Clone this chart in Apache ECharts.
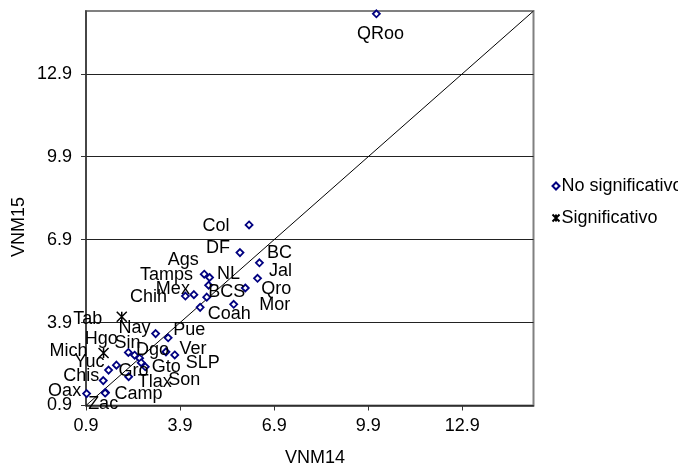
<!DOCTYPE html>
<html>
<head>
<meta charset="utf-8">
<script src="https://cdn.jsdelivr.net/npm/echarts@6/dist/echarts.min.js"></script>
<style>
html,body{margin:0;padding:0;background:#fff;}
#chart{width:678px;height:468px;}
</style>
</head>
<body>
<div id="chart"></div>
<script>
// ---- data ----
const nsNames = ['QRoo','Col','DF','BC','Jal','Ags','NL','Tamps','Qro','Chih','Mex','BCS','Mor','Coah',
  'Nay','Pue','Hgo','Sin','Dgo','Son','Gto','Ver','SLP','Gro','Yuc','Tlax','Chis','Oax','Camp','Zac'];
const nsVNM14 = [10.16,6.10,5.81,6.43,6.37,4.67,4.84,4.81,5.98,4.07,4.34,4.75,5.61,4.54,
  3.12,3.52,2.25,2.45,2.61,2.66,2.79,3.45,3.73,1.87,1.62,2.26,1.45,0.92,1.52,1.51];
const nsVNM15 = [15.07,7.43,6.43,6.06,5.50,5.65,5.53,5.25,5.15,4.86,4.91,4.82,4.56,4.45,
  3.50,3.35,2.82,2.72,2.61,2.45,2.30,2.84,2.73,2.36,2.18,1.94,1.80,1.33,1.37,1.35];

const sigNames = ['Tab','Mich'];
const sigVNM14 = [2.04,1.46];
const sigVNM15 = [4.11,2.80];

const tickValues = [0.9,3.9,6.9,9.9,12.9];
const axisMin = 0.9;
const axisMax = 15.17;

// ---- label placement (style only, pixel offsets of label centre from marker) ----
const nsLabelOffset = [[4,20],[-33,1],[-22,-5],[20,-10],[23,-7],[-21,-14],[19,-3],[-42,-10],[31,1],[-37,1],[-21,-6],[20,-5],[41,1],[29,7],
  [-21,-6],[21,-8],[-27,-13],[-7,-12],[13,-8],[43,17],[21,0],[27,-3],[28,8],[17,6],[-19,-8],[26,5],[-22,-5],[-22,-3],[33,2],[-2,11]];
const sigLabelOffset = [[-34,2],[-35,-2]];

const FONT = 'Liberation Sans, Arial, sans-serif';
const FS = 18;

function buildData(names, xs, ys, offs){
  return names.map((n,i)=>({
    name:n, value:[xs[i], ys[i]],
    label:{offset:offs[i]}
  }));
}

const chart = echarts.init(document.getElementById('chart'), null, {renderer:'canvas'});
const starPath = 'path://M0,0L10,10M10,0L0,10M5,0L5,10';
const labelStyle = {show:true, position:'inside', formatter:'{b}', color:'#000', opacity:1, fontSize:FS, fontFamily:FONT, textBorderWidth:0, textBorderColor:'transparent'};

chart.setOption({
  animation:false,
  backgroundColor:'#fff',
  textStyle:{fontFamily:FONT},
  grid:{left:86, top:11, width:447.5, height:394.5, show:true, borderColor:'#808080', borderWidth:2, backgroundColor:'#fff'},
  xAxis:{
    type:'value', min:axisMin, max:axisMax,
    axisLine:{show:true, onZero:false, lineStyle:{color:'#333', width:1.5}},
    axisTick:{show:true, inside:false, length:5, customValues:tickValues, lineStyle:{color:'#333'}},
    axisLabel:{customValues:tickValues, margin:12, color:'#000', fontSize:FS, fontFamily:FONT, formatter:v=>v.toFixed(1)},
    splitLine:{show:false}
  },
  yAxis:{
    type:'value', min:axisMin, max:axisMax,
    axisLine:{show:true, onZero:false, lineStyle:{color:'#333', width:1.5}},
    axisTick:{show:true, inside:false, length:5, customValues:tickValues, lineStyle:{color:'#333'}},
    axisLabel:{customValues:tickValues, margin:14, color:'#000', fontSize:FS, fontFamily:FONT, formatter:v=>v.toFixed(1)},
    splitLine:{show:true, lineStyle:{color:'#222', width:1}}
  },
  legend:{
    orient:'vertical', left:545, top:172, itemWidth:7, itemHeight:7, itemGap:14,
    data:['No significativo','Significativo'],
    textStyle:{fontSize:FS, fontFamily:FONT, color:'#000', padding:[0,0,0,-3]}
  },
  graphic:[
    {type:'text', x:315, y:458, style:{text:'VNM14', fontSize:FS, fontFamily:FONT, fill:'#000', align:'center', verticalAlign:'middle'}},
    {type:'text', x:19, y:227, rotation:Math.PI/2, style:{text:'VNM15', fontSize:FS, fontFamily:FONT, fill:'#000', align:'center', verticalAlign:'middle'}}
  ],
  series:[
    {
      type:'line', name:'diag', silent:true, symbol:'none',
      data:[[axisMin,axisMin],[axisMax,axisMax]],
      lineStyle:{color:'#000', width:1}, z:1
    },
    {
      type:'scatter', name:'No significativo', symbol:'diamond', symbolSize:[7,7],
      itemStyle:{color:'#fff', borderColor:'#000080', borderWidth:1.8, opacity:1},
      label:labelStyle,
      data:buildData(nsNames, nsVNM14, nsVNM15, nsLabelOffset), z:3
    },
    {
      type:'scatter', name:'Significativo', symbol:starPath, symbolSize:[10,10],
      itemStyle:{color:'none', borderColor:'#000', borderWidth:1.5, opacity:1},
      label:labelStyle,
      data:buildData(sigNames, sigVNM14, sigVNM15, sigLabelOffset), z:3
    }
  ]
});
</script>
</body>
</html>
